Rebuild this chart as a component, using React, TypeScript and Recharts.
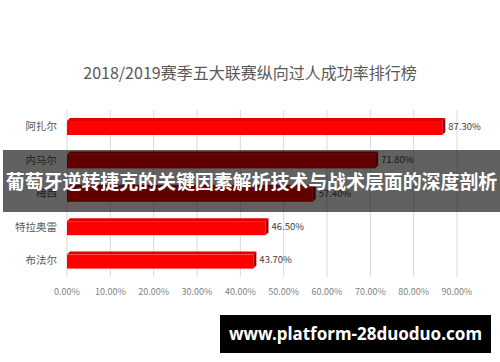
import React from "react";
import { BarChart, Bar, XAxis, YAxis, CartesianGrid, LabelList } from "recharts";

const players = ["阿扎尔", "内马尔", "梅西", "特拉奥雷", "布法尔"];
const rates = [0.873, 0.718, 0.574, 0.465, 0.437];
const ticks = [0, 0.1, 0.2, 0.3, 0.4, 0.5, 0.6, 0.7, 0.8, 0.9];

const title = "2018/2019赛季五大联赛纵向过人成功率排行榜";
const banner = "葡萄牙逆转捷克的关键因素解析技术与战术层面的深度剖析";
const site = "www.platform-28duoduo.com";

const data = players.map((name, i) => ({ name, rate: rates[i] }));

const pct = (v: number) => `${(v * 100).toFixed(2)}%`;

// 3D-ish bar: front face, top face and a darker right side
function Bar3D(props: any) {
  const { x, y, width, height } = props;
  if (width <= 0) return null;
  const d = 3;
  const w = width - d;
  return (
    <g>
      <polygon
        points={`${x + d},${y} ${x + width},${y} ${x + w},${y + d} ${x},${y + d}`}
        fill="#e00000"
      />
      <polygon
        points={`${x + w},${y + d} ${x + width},${y} ${x + width},${y + height - d} ${x + w},${y + height}`}
        fill="#a00000"
      />
      <rect x={x} y={y + d} width={w} height={height - d} fill="#ff0000" />
    </g>
  );
}

export default function App() {
  return (
    <div style={{ position: "relative", width: 500, height: 362, background: "#fff", fontFamily: "'Noto Sans CJK SC', 'Noto Sans', sans-serif" }}>
      <style>{"body{margin:0}"}</style>
      <div
        style={{
          position: "absolute",
          top: 60,
          left: 0,
          width: 500,
          textAlign: "center",
          fontSize: 16,
          color: "#595959",
          lineHeight: "24px",
        }}
      >
        {title}
      </div>
      <BarChart
        width={500}
        height={362}
        data={data}
        layout="vertical"
        margin={{ top: 110, right: 43, bottom: 55, left: 7 }}
        barSize={17}
      >
        <CartesianGrid horizontal={false} stroke="#d9d9d9" />
        <XAxis
          type="number"
          domain={[0, 0.9]}
          ticks={ticks}
          tickFormatter={pct}
          axisLine={false}
          tickLine={false}
          tickMargin={6}
          tick={{ fontSize: 9, fill: "#7f7f7f" }}
          interval={0}
          height={30}
        />
        <YAxis
          type="category"
          dataKey="name"
          axisLine={false}
          tickLine={false}
          width={60}
          tickMargin={4}
          tick={{ fontSize: 10.5, fill: "#595959" }}
        />
        <Bar dataKey="rate" shape={<Bar3D />} isAnimationActive={false}>
          <LabelList
            dataKey="rate"
            position="right"
            offset={3}
            formatter={(v: any) => pct(Number(v))}
            style={{ fontSize: 9.5, fill: "#404040" }}
          />
        </Bar>
      </BarChart>
      <div
        style={{
          position: "absolute",
          top: 150,
          left: 3,
          width: 497,
          height: 62,
          background: "rgba(0,0,0,0.62)",
          color: "#fff",
          fontWeight: 700,
          fontSize: 19,
          lineHeight: "62px",
          whiteSpace: "nowrap",
          overflow: "hidden",
          letterSpacing: -0.1,
          textAlign: "center",
        }}
      >
        {banner}
      </div>
      <div
        style={{
          position: "absolute",
          top: 315,
          left: 220,
          width: 271,
          height: 38,
          background: "#000",
          color: "#fff",
          fontWeight: 700,
          fontSize: 17,
          lineHeight: "38px",
          textAlign: "center",
          fontFamily: "'Noto Sans', sans-serif",
          whiteSpace: "nowrap",
        }}
      >
        {site}
      </div>
    </div>
  );
}
